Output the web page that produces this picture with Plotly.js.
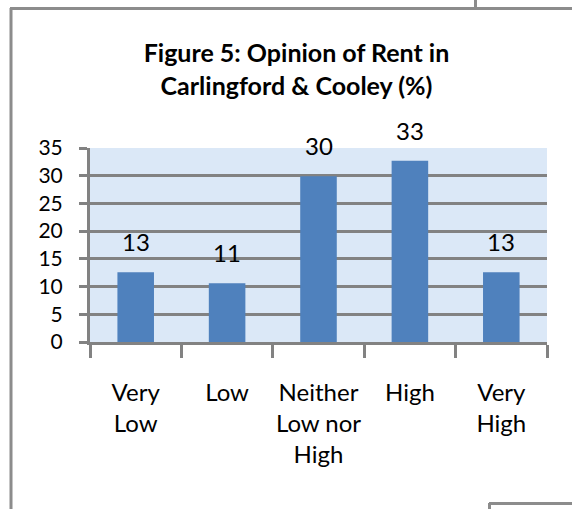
<!DOCTYPE html>
<html>
<head>
<meta charset="utf-8">
<script src="https://cdn.plot.ly/plotly-3.0.1.min.js"></script>
<style>
  html, body { margin: 0; padding: 0; background: #ffffff; }
  #chart { width: 572px; height: 509px; }
</style>
</head>
<body>
<div id="chart"></div>
<script>
// ---- data ----
var categories = ["Very<br>Low", "Low", "Neither<br>Low nor<br>High", "High", "Very<br>High"];
var values = [12.6, 10.6, 29.9, 32.7, 12.6];
var yTicks = [0, 5, 10, 15, 20, 25, 30, 35];

// ---- geometry helpers (pixels -> paper) ----
var L = 90, R = 547, T = 148, B = 342;
function px(x) { return (x - L) / (R - L); }
function py(y) { return (B - y) / (B - T); }

var FONT = "Lato, 'Open Sans', sans-serif";
var GRID = "#828282";

var trace = {
  type: "bar",
  x: categories,
  y: values,
  marker: { color: "#4f81bd", line: { width: 0 } },
  hoverinfo: "none"
};

var annotations = values.map(function (v, i) {
  return {
    x: categories[i], y: v, xref: "x", yref: "y",
    text: String(Math.round(v)),
    showarrow: false, yanchor: "bottom", yshift: 14,
    font: { family: FONT, size: 24, color: "#000000" }
  };
});

var border = { color: "#8c8c8c", width: 3 };
var shapes = [
  { type: "line", xref: "paper", yref: "paper", x0: px(11), x1: px(11), y0: py(8), y1: py(520), line: border },
  { type: "line", xref: "paper", yref: "paper", x0: px(10), x1: px(580), y0: py(8.5), y1: py(8.5), line: border },
  { type: "line", xref: "paper", yref: "paper", x0: px(475.5), x1: px(475.5), y0: py(-5), y1: py(8), line: border },
  { type: "line", xref: "paper", yref: "paper", x0: px(489), x1: px(580), y0: py(503.5), y1: py(503.5), line: border },
  { type: "line", xref: "paper", yref: "paper", x0: px(489.5), x1: px(489.5), y0: py(503), y1: py(520), line: border }
];

var layout = {
  width: 572, height: 509,
  margin: { l: L, r: 572 - R, t: T, b: 509 - B, pad: 0 },
  paper_bgcolor: "#ffffff",
  plot_bgcolor: "#dbe8f7",
  showlegend: false,
  bargap: 0.6,
  title: {
    text: "<b>Figure 5: Opinion of Rent in<br>Carlingford & Cooley (%)</b>",
    font: { family: FONT, size: 25, color: "#000000" },
    xref: "paper", x: px(296.5), xanchor: "center",
    yref: "container", y: 1 - 62 / 509, yanchor: "top"
  },
  xaxis: {
    type: "category",
    tickson: "boundaries",
    tickangle: 0,
    ticks: "outside", ticklen: 13, tickwidth: 3, tickcolor: GRID,
    showline: true, linecolor: GRID, linewidth: 3,
    showgrid: false, zeroline: false,
    tickfont: { family: FONT, size: 24, color: "#000000" },
    ticklabelstandoff: 27,
    fixedrange: true
  },
  yaxis: {
    range: [0, 35],
    tickvals: yTicks,
    ticks: "outside", ticklen: 8, tickwidth: 3, tickcolor: GRID,
    showline: true, linecolor: GRID, linewidth: 3,
    showgrid: true, gridcolor: GRID, gridwidth: 3,
    zeroline: false,
    tickfont: { family: FONT, size: 21, color: "#000000" },
    ticklabelstandoff: 12,
    fixedrange: true
  },
  annotations: annotations,
  shapes: shapes
};

Plotly.newPlot("chart", [trace], layout, { displayModeBar: false, staticPlot: true });
</script>
</body>
</html>
